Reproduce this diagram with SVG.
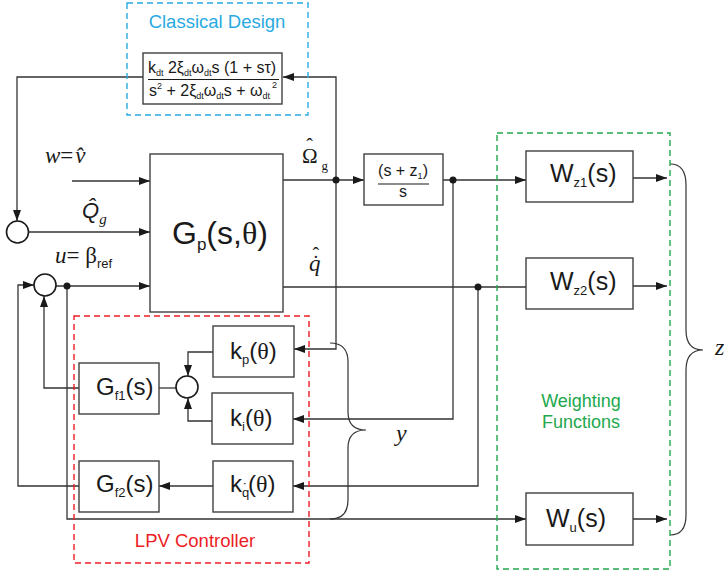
<svg xmlns="http://www.w3.org/2000/svg" width="724" height="574" viewBox="0 0 724 574">
<defs>
<marker id="arr" viewBox="0 0 11 8" refX="11" refY="4" markerWidth="11" markerHeight="8" orient="auto" markerUnits="userSpaceOnUse">
<path d="M0,0 L11,4 L0,8 z" fill="#1a1a1a"/>
</marker>
<style>
.box{fill:#fff;stroke:#404040;stroke-width:1.4}
.w{fill:none;stroke:#333;stroke-width:1.3}
.wa{fill:none;stroke:#333;stroke-width:1.3;marker-end:url(#arr)}
.dot{fill:#1a1a1a}
.sum{fill:#fff;stroke:#1a1a1a;stroke-width:1.6}
.brace{fill:none;stroke:#333;stroke-width:1.2}
.sans{font-family:"Liberation Sans",Arial,sans-serif;fill:#1a1a1a}
.serif{font-family:"Liberation Serif","Times New Roman",serif;fill:#1a1a1a}
.it{font-style:italic}
.up{font-style:normal}
.dash{fill:none;stroke-width:1.4;stroke-dasharray:6,4}
</style>
</defs>
<rect width="724" height="574" fill="#fff"/>

<g id="connectors">
<polyline class="wa" points="143,77 17,77 17,221"/>
<line class="wa" x1="29" y1="232" x2="150" y2="232"/>
<line class="wa" x1="72" y1="181" x2="150" y2="181"/>
<line class="wa" x1="56" y1="286" x2="150" y2="286"/>
<line class="wa" x1="283" y1="180" x2="364" y2="180"/>
<polyline class="wa" points="336,180 336,77 283,77"/>
<polyline class="wa" points="336,180 336,349 294,349"/>
<line class="wa" x1="443" y1="180" x2="526" y2="180"/>
<polyline class="wa" points="453,180 453,419 293,419"/>
<line class="w" x1="283" y1="287" x2="526" y2="287"/>
<polyline class="wa" points="478,287 478,486 293,486"/>
<polyline class="wa" points="213,352 188,352 188,376"/>
<polyline class="wa" points="212,421 188,421 188,398"/>
<line class="w" x1="159" y1="388" x2="176" y2="388"/>
<polyline class="wa" points="79,388 44,388 44,296"/>
<line class="wa" x1="213" y1="486" x2="159" y2="486"/>
<polyline class="wa" points="79,486 18,486 18,285 34,285"/>
<polyline class="wa" points="67,286 67,519 526,519"/>
<line class="wa" x1="633" y1="178" x2="667" y2="178"/>
<line class="wa" x1="633" y1="286" x2="667" y2="286"/>
<line class="wa" x1="633" y1="519" x2="667" y2="519"/>
<circle class="dot" cx="67" cy="286" r="3.5"/>
<circle class="dot" cx="336" cy="180" r="3.5"/>
<circle class="dot" cx="453" cy="180" r="3.5"/>
<circle class="dot" cx="478" cy="287" r="3.5"/>
<path class="brace" d="M330,343 Q348,343 348,362 L348,412 Q348,430 366,430 Q348,430 348,448 L348,500 Q348,519 330,519"/>
<path class="brace" d="M670,164 Q686,164 686,185 L686,330 Q686,350 703,350 Q686,350 686,370 L686,515 Q686,535 670,535"/>
</g>

<g id="classical-design">
<rect class="dash" x="127" y="3" width="181" height="112" stroke="#29abe2"/>
<text class="sans" x="217" y="28" font-size="18.5" text-anchor="middle" style="fill:#29abe2">Classical Design</text>
</g>
<g id="classical-tf">
<rect class="box" x="143" y="53" width="139" height="51"/>
<text class="sans" x="148" y="73" font-size="16">k<tspan font-size="9" dy="3">dt</tspan><tspan dy="-3"> 2ξ</tspan><tspan font-size="9" dy="3">dt</tspan><tspan dy="-3">ω</tspan><tspan font-size="9" dy="3">dt</tspan><tspan dy="-3">s (1 + sτ)</tspan></text>
<line x1="148" y1="79.5" x2="279" y2="79.5" stroke="#1a1a1a" stroke-width="1.2"/>
<text class="sans" x="149" y="96" font-size="16">s<tspan font-size="9" dy="-7">2</tspan><tspan dy="7"> + 2ξ</tspan><tspan font-size="9" dy="3">dt</tspan><tspan dy="-3">ω</tspan><tspan font-size="9" dy="3">dt</tspan><tspan dy="-3">s + ω</tspan><tspan font-size="9" dy="3">dt</tspan><tspan font-size="9" dx="2" dy="-11">2</tspan></text>
</g>

<g id="sum1"><circle class="sum" cx="17.5" cy="232" r="11"/></g>
<g id="sum2"><circle class="sum" cx="45" cy="285" r="11"/></g>
<g id="sum3"><circle class="sum" cx="187" cy="387" r="11"/></g>

<g id="plant">
<rect class="box" x="150" y="154" width="133" height="158"/>
<text class="sans" x="172" y="244" font-size="32">G<tspan font-size="17" dy="6">p</tspan><tspan dy="-6">(s,</tspan><tspan class="serif">θ</tspan>)</text>
</g>

<g id="integrator">
<rect class="box" x="364" y="154" width="79" height="51"/>
<text class="sans" x="403" y="176" font-size="16" text-anchor="middle">(s + z<tspan font-size="9" dy="3">1</tspan><tspan dy="-3">)</tspan></text>
<line x1="378" y1="184" x2="429" y2="184" stroke="#1a1a1a" stroke-width="1.2"/>
<text class="sans" x="403" y="197" font-size="16" text-anchor="middle">s</text>
</g>

<g id="labels">
<text class="serif" x="45" y="163" font-size="23"><tspan class="it">w</tspan>=<tspan class="it" dx="2">v̂</tspan></text>
<text class="sans it" x="82" y="218" font-size="22">Q̂<tspan class="serif" font-size="15" dy="6">g</tspan></text>
<text class="serif" x="55" y="263" font-size="23"><tspan class="it">u</tspan>= β<tspan class="sans" font-size="13" dy="5">ref</tspan></text>
<text class="serif" x="302" y="163" font-size="21">Ω<tspan font-size="20" dx="-11.4" dy="-10">ˆ</tspan><tspan font-size="13" dx="8.7" dy="17">g</tspan></text>
<text class="serif it" x="309" y="271" font-size="23">q<tspan class="up" font-size="20" dx="-8" dy="-1">˙</tspan><tspan class="up" font-size="20" dx="-6.7" dy="-8">ˆ</tspan></text>
<text class="serif it" x="396" y="441" font-size="24">y</text>
<text class="serif it" x="715" y="355" font-size="24">z</text>
</g>

<g id="lpv-controller">
<rect class="dash" x="74" y="316" width="235" height="247" stroke="#ed1c24"/>
<text class="sans" x="195" y="547" font-size="18.5" text-anchor="middle" style="fill:#ed1c24">LPV Controller</text>
</g>
<g id="kp">
<rect class="box" x="213" y="326" width="81" height="51"/>
<text class="sans" x="230" y="359" font-size="24">k<tspan font-size="13" dy="5">p</tspan><tspan dy="-5">(</tspan><tspan class="serif">θ</tspan>)</text>
</g>
<g id="ki">
<rect class="box" x="212" y="393" width="81" height="51"/>
<text class="sans" x="230" y="426" font-size="24">k<tspan font-size="13" dy="5">i</tspan><tspan dy="-5">(</tspan><tspan class="serif">θ</tspan>)</text>
</g>
<g id="kq">
<rect class="box" x="213" y="461" width="80" height="51"/>
<text class="sans" x="230" y="492" font-size="24">k<tspan font-size="13" dy="5">q</tspan><tspan font-size="15" dx="-6.3" dy="-3">˙</tspan><tspan dx="0" dy="-2">(</tspan><tspan class="serif">θ</tspan>)</text>
</g>
<g id="gf1">
<rect class="box" x="79" y="363" width="80" height="51"/>
<text class="sans" x="96" y="395" font-size="24">G<tspan font-size="13" dy="5">f1</tspan><tspan dy="-5">(s)</tspan></text>
</g>
<g id="gf2">
<rect class="box" x="79" y="461" width="80" height="51"/>
<text class="sans" x="96" y="492" font-size="24">G<tspan font-size="13" dy="5">f2</tspan><tspan dy="-5">(s)</tspan></text>
</g>

<g id="weighting-functions">
<rect class="dash" x="497" y="133" width="173" height="436" stroke="#21a84c"/>
<text class="sans" x="581" y="407" font-size="18" text-anchor="middle" style="fill:#21a84c">Weighting</text>
<text class="sans" x="581" y="428" font-size="18" text-anchor="middle" style="fill:#21a84c">Functions</text>
</g>
<g id="wz1">
<rect class="box" x="526" y="151" width="107" height="51"/>
<text class="sans" x="550" y="182" font-size="25">W<tspan font-size="13" dy="5">z1</tspan><tspan dy="-5">(s)</tspan></text>
</g>
<g id="wz2">
<rect class="box" x="526" y="258" width="107" height="51"/>
<text class="sans" x="550" y="290" font-size="25">W<tspan font-size="13" dy="5">z2</tspan><tspan dy="-5">(s)</tspan></text>
</g>
<g id="wu">
<rect class="box" x="526" y="493" width="107" height="52"/>
<text class="sans" x="546" y="527" font-size="25">W<tspan font-size="13" dy="5">u</tspan><tspan dy="-5">(s)</tspan></text>
</g>
</svg>
